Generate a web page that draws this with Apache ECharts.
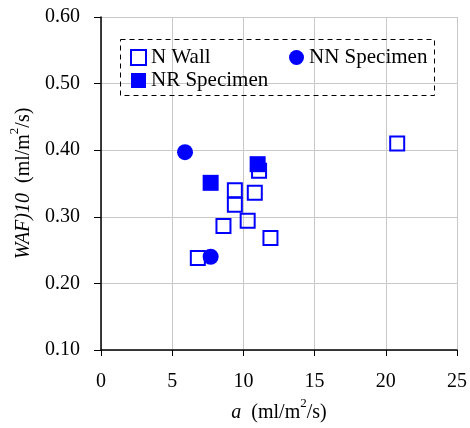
<!DOCTYPE html>
<html>
<head>
<meta charset="utf-8">
<script src="https://cdn.jsdelivr.net/npm/echarts@6/dist/echarts.min.js"></script>
<style>html,body{margin:0;padding:0;background:#fff}#c{width:470px;height:428px}</style>
</head>
<body>
<div id="c"></div>
<script>
var nWallX = [20.8, 6.8, 8.6, 9.4, 9.4, 10.3, 10.8, 11.1, 11.9];
var nWallY = [0.410, 0.238, 0.286, 0.340, 0.318, 0.294, 0.336, 0.369, 0.268];
var nnX = [5.9, 7.7];
var nnY = [0.397, 0.240];
var nrX = [7.7, 11.0];
var nrY = [0.351, 0.379];
var seriesNames = ['N Wall', 'NN Specimen', 'NR Specimen'];

function pairs(xs, ys) { return xs.map(function (x, i) { return [x, ys[i]]; }); }

var FONT = 'Liberation Serif';
var BLUE = '#0000ff';
var chart = echarts.init(document.getElementById('c'));
var nameRich = {
  i: { fontFamily: FONT, fontSize: 20, fontStyle: 'italic', color: '#000', lineHeight: 26, verticalAlign: 'bottom' },
  t: { fontFamily: FONT, fontSize: 20, color: '#000', lineHeight: 26, verticalAlign: 'bottom' },
  s: { fontFamily: FONT, fontSize: 13, color: '#000', lineHeight: 13, verticalAlign: 'top' }
};
chart.setOption({
  animation: false,
  backgroundColor: '#fff',
  textStyle: { fontFamily: FONT, color: '#000' },
  grid: { left: 101, right: 12, top: 17, bottom: 78, containLabel: false },
  xAxis: {
    type: 'value', min: 0, max: 25, interval: 5,
    axisLine: { show: true, lineStyle: { color: '#000', width: 1.5 } },
    axisTick: { show: true, length: 6, lineStyle: { color: '#000' } },
    axisLabel: { fontFamily: FONT, fontSize: 20, color: '#000', margin: 22 },
    splitLine: { show: true, lineStyle: { color: '#c8c8c8', width: 1 } },
    name: '{i|a}{t|  (ml/m}{s|2}{t|/s)}',
    nameLocation: 'middle', nameGap: 46,
    nameTextStyle: { fontFamily: FONT, fontSize: 20, color: '#000', rich: nameRich }
  },
  yAxis: {
    type: 'value', min: 0.1, max: 0.6, interval: 0.1,
    axisLine: { show: true, lineStyle: { color: '#000', width: 1.5 } },
    axisTick: { show: true, length: 7, lineStyle: { color: '#000' } },
    axisLabel: { fontFamily: FONT, fontSize: 20, color: '#000', margin: 21,
      formatter: function (v) { return v.toFixed(2); } },
    splitLine: { show: true, lineStyle: { color: '#c8c8c8', width: 1 } },
    name: '{i|WAF)10}{t|  (ml/m}{s|2}{t|/s)}',
    nameLocation: 'middle', nameGap: 64,
    nameTextStyle: { fontFamily: FONT, fontSize: 20, color: '#000', rich: nameRich }
  },
  legend: [
    {
      data: [seriesNames[0], seriesNames[2]],
      orient: 'vertical', left: 125, top: 42, itemGap: 2,
      itemWidth: 15, itemHeight: 15,
      textStyle: { fontFamily: FONT, fontSize: 21, color: '#000' }
    },
    {
      data: [seriesNames[1]],
      orient: 'vertical', left: 284, top: 42,
      itemWidth: 15, itemHeight: 15,
      textStyle: { fontFamily: FONT, fontSize: 21, color: '#000' }
    }
  ],
  graphic: [{
    type: 'rect', left: 118, top: 37, z: 100,
    shape: { width: 314, height: 56 },
    style: { fill: 'none', stroke: '#000', lineWidth: 1, lineDash: [5, 4] }
  }],
  series: [
    {
      name: seriesNames[0], type: 'scatter', symbol: 'rect', symbolSize: 14,
      data: pairs(nWallX, nWallY),
      itemStyle: { color: 'rgba(255,255,255,0)', borderColor: BLUE, borderWidth: 2, opacity: 1 },
      z: 2
    },
    {
      name: seriesNames[1], type: 'scatter', symbol: 'circle', symbolSize: 16,
      data: pairs(nnX, nnY),
      itemStyle: { color: BLUE, opacity: 1 },
      z: 3
    },
    {
      name: seriesNames[2], type: 'scatter', symbol: 'rect', symbolSize: 16,
      data: pairs(nrX, nrY),
      itemStyle: { color: BLUE, opacity: 1 },
      z: 4
    }
  ]
});
</script>
</body>
</html>
